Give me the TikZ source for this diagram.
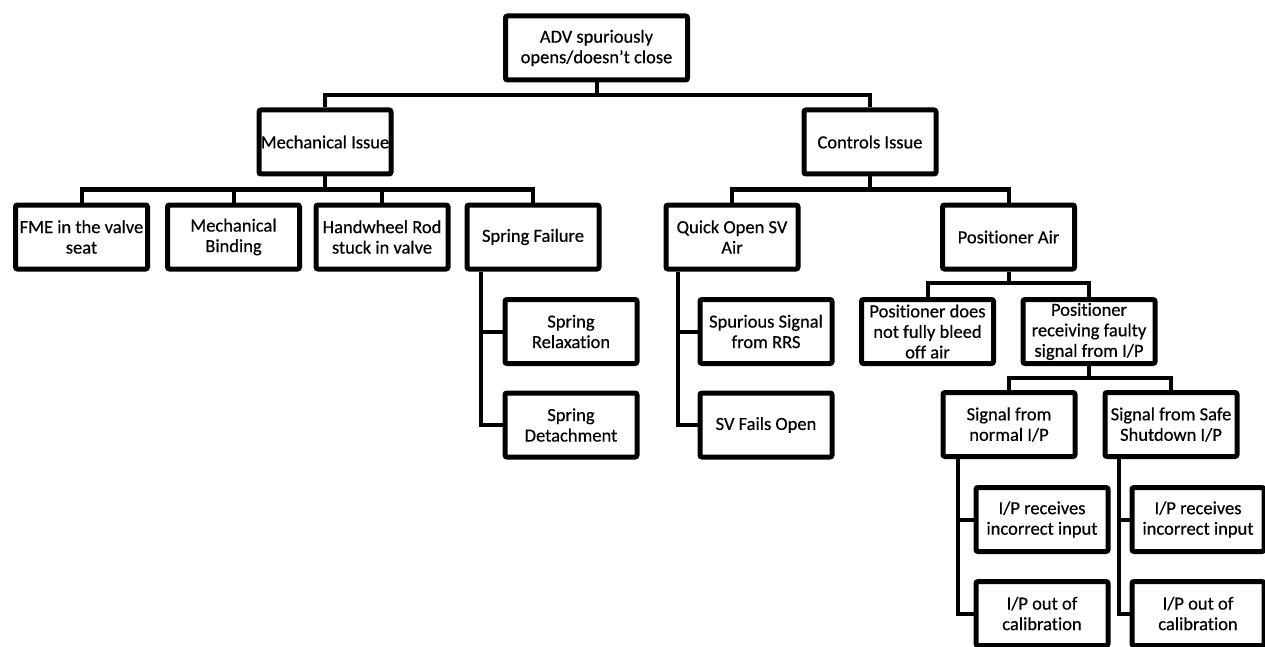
\documentclass[tikz,border=0pt]{standalone}
\usepackage{fontspec}
\setmainfont{Carlito}[Ligatures=NoCommon, FakeBold=0.5]
\usepackage{tikz}
\tikzset{>=latex}
\tikzset{font=\fontsize{18.5}{20.5}\selectfont}
\tikzset{box/.style={draw, line width=5pt, rounded corners=2pt, align=center,
    minimum width=132pt, minimum height=64pt, inner sep=0pt}}
\tikzset{link/.style={line width=4pt}}

\begin{document}
\begin{tikzpicture}[x=1pt, y=-1pt]
  \useasboundingbox (0, 0) rectangle (1265, 647); %
  % top event and first level
  \node[box, minimum width=182pt] (adv) at (596.5, 48) {ADV spuriously\\opens/doesn't close}; %
  \node[box] (mech) at (325, 142) {Mechanical Issue}; %
  \node[box] (ctrl) at (870, 142) {Controls Issue}; %
  % mechanical branch
  \node[box] (fme) at (81.5, 237) {FME in the valve\\seat}; %
  \node[box] (bind) at (233.5, 237) {Mechanical\\Binding}; %
  \node[box] (hwr) at (382, 237) {Handwheel Rod\\stuck in valve}; %
  \node[box] (spring) at (533, 237) {Spring Failure}; %
  \node[box] (relax) at (571, 331.5) {Spring\\Relaxation}; %
  \node[box] (detach) at (571, 425) {Spring\\Detachment}; %
  % controls branch
  \node[box] (qosv) at (732, 237) {Quick Open SV\\Air}; %
  \node[box] (rrs) at (766, 331.5) {Spurious Signal\\from RRS}; %
  \node[box] (svopen) at (766, 425) {SV Fails Open}; %
  \node[box] (posair) at (1008.5, 237) {Positioner Air}; %
  \node[box] (bleed) at (927.5, 331.5) {Positioner does\\not fully bleed\\off air}; %
  \node[box] (faulty) at (1089, 331.5) {Positioner\\receiving faulty\\signal from I/P}; %
  \node[box] (normip) at (1009, 424.5) {Signal from\\normal I/P}; %
  \node[box] (safeip) at (1171, 424.5) {Signal from Safe\\Shutdown I/P}; %
  \node[box] (nin) at (1042, 519.5) {I/P receives\\incorrect input}; %
  \node[box] (ncal) at (1042, 613.5) {I/P out of\\calibration}; %
  \node[box] (sin) at (1198, 519.5) {I/P receives\\incorrect input}; %
  \node[box] (scal) at (1198, 613.5) {I/P out of\\calibration}; %
  % tree connectors
  \draw[link] (adv.south) -- ++(0, 13) -| (mech.north); %
  \draw[link] (adv.south) -- ++(0, 13) -| (ctrl.north); %
  \foreach \kid in {fme, bind, hwr, spring}
    \draw[link] (mech.south) -- ++(0, 13) -| (\kid.north); %
  \foreach \kid in {qosv, posair}
    \draw[link] (ctrl.south) -- ++(0, 13) -| (\kid.north); %
  \foreach \kid in {bleed, faulty}
    \draw[link] (posair.south) -- ++(0, 11) -| (\kid.north); %
  \foreach \kid in {normip, safeip}
    \draw[link] (faulty.south) -- ++(0, 12) -| (\kid.north); %
  % side branches
  \draw[link] ([xshift=16pt]spring.south west) |- (relax.west); %
  \draw[link] ([xshift=16pt]spring.south west) |- (detach.west); %
  \draw[link] ([xshift=14pt]qosv.south west) |- (rrs.west); %
  \draw[link] ([xshift=14pt]qosv.south west) |- (svopen.west); %
  \draw[link] ([xshift=17pt]normip.south west) |- (nin.west); %
  \draw[link] ([xshift=17pt]normip.south west) |- (ncal.west); %
  \draw[link] ([xshift=16pt]safeip.south west) |- (sin.west); %
  \draw[link] ([xshift=16pt]safeip.south west) |- (scal.west); %
\end{tikzpicture}
\end{document}
